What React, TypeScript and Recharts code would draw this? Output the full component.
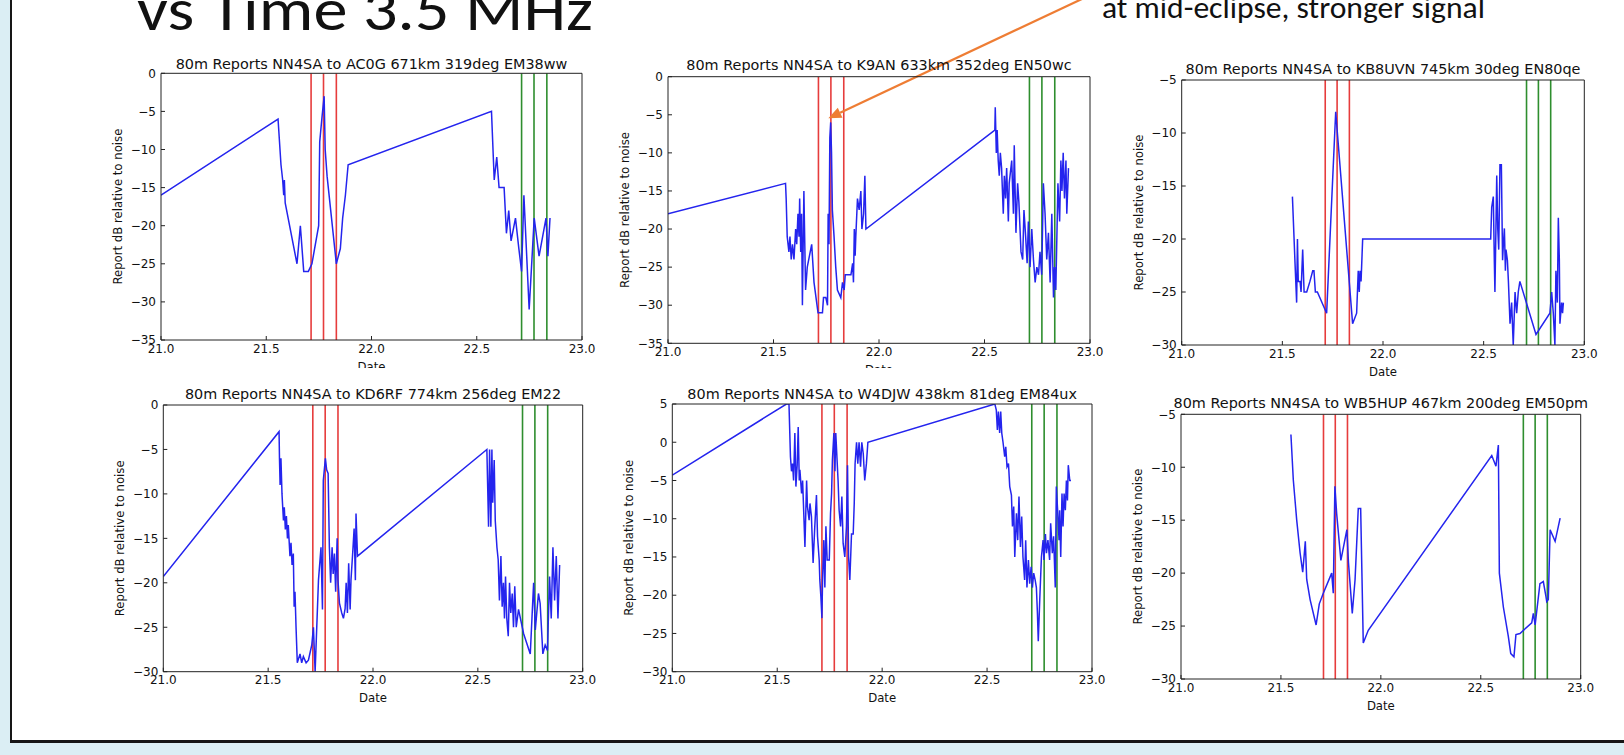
import React from 'react';
import { LineChart, Line, XAxis, YAxis, ReferenceLine } from 'recharts';

// ---------------- data ----------------
const xTicks = [21.0, 21.5, 22.0, 22.5, 23.0];
const eclipseTimes = [21.713, 21.772, 21.833];
const controlTimes = [22.713, 22.772, 22.833];

const ac0gTime = [21.0, 21.556, 21.57, 21.578, 21.583, 21.586, 21.59, 21.646, 21.662, 21.678, 21.7, 21.717, 21.749, 21.754, 21.765, 21.775, 21.78, 21.789, 21.833, 21.852, 21.863, 21.876, 21.889, 22.57, 22.583, 22.595, 22.606, 22.63, 22.641, 22.652, 22.663, 22.684, 22.7, 22.713, 22.724, 22.749, 22.773, 22.796, 22.829, 22.838, 22.848];
const ac0gDb = [-16, -6, -12, -14, -16, -14, -17, -25, -20, -26, -26, -25, -20, -9, -5.7, -3, -10, -13.5, -25, -23, -19, -16, -12, -5, -14, -11, -15, -15, -21, -18, -22, -19, -23, -26, -16, -31, -19, -24, -19, -24, -19];

const k9anTime = [21.0, 21.557, 21.56, 21.565, 21.573, 21.578, 21.584, 21.59, 21.597, 21.605, 21.61, 21.616, 21.621, 21.624, 21.629, 21.633, 21.637, 21.644, 21.652, 21.66, 21.681, 21.692, 21.711, 21.732, 21.737, 21.748, 21.756, 21.759, 21.763, 21.767, 21.771, 21.775, 21.779, 21.787, 21.795, 21.803, 21.819, 21.827, 21.835, 21.84, 21.851, 21.867, 21.875, 21.879, 21.883, 21.887, 21.89, 21.898, 21.906, 21.914, 21.919, 21.927, 21.933, 21.938,
  22.549, 22.551, 22.556, 22.56, 22.565, 22.57, 22.575, 22.581, 22.589, 22.594, 22.6, 22.605, 22.613, 22.617, 22.629, 22.637, 22.641, 22.649, 22.657, 22.663, 22.673, 22.681, 22.687, 22.695, 22.702, 22.708, 22.716, 22.724, 22.732, 22.74, 22.748, 22.756, 22.763, 22.771, 22.779, 22.787, 22.795, 22.803, 22.811, 22.819, 22.827, 22.832, 22.838, 22.848, 22.856, 22.862, 22.867, 22.873, 22.879, 22.886, 22.89, 22.898];
const k9anDb = [-18, -14, -16, -21, -23, -21, -24, -22, -24, -20, -22, -18, -21, -16, -23, -18, -30, -15, -28, -25, -22, -27, -31, -31, -29, -29, -30, -18, -22, -8, -6, -10, -17.5, -21, -25, -28, -29, -27, -28, -26, -26, -26, -24.5, -27, -20, -23.5, -21, -16, -17.5, -15, -20, -18, -13, -20,
  -7, -4, -10, -7, -11, -13, -10, -12, -18, -13, -16, -12, -19, -14, -11, -18, -9, -20.5, -14, -16.5, -23, -24, -17.5, -21, -24.5, -19, -25, -20, -24, -27, -25, -26, -23, -26, -14, -18, -24, -20.5, -27, -18, -29, -25, -28, -14, -19, -11, -15, -10, -16, -11, -18, -12];

const kb8uvnTime = [21.55, 21.563, 21.571, 21.575, 21.579, 21.588, 21.593, 21.601, 21.608, 21.621, 21.637, 21.651, 21.657, 21.664, 21.674, 21.72, 21.765, 21.849, 21.869, 21.877, 21.882, 21.886, 21.891, 21.899, 22.535, 22.54, 22.548, 22.553, 22.556, 22.561, 22.565, 22.57, 22.575, 22.581, 22.588, 22.594, 22.598, 22.603, 22.608, 22.611, 22.618, 22.623, 22.631, 22.639, 22.647, 22.656, 22.664, 22.672, 22.68, 22.76, 22.829, 22.838, 22.846, 22.854, 22.859, 22.866, 22.871, 22.876, 22.879, 22.887, 22.892, 22.896];
const kb8uvnDb = [-16, -22.3, -26, -20, -24, -24, -25, -21, -25, -25, -24, -23, -23, -25, -25, -27, -8, -28, -27, -23, -25, -23, -24, -20, -20, -17, -16, -22, -25, -19, -14, -19, -21, -13, -13, -22, -20.5, -19, -23, -21, -22, -24, -28, -26, -30, -25, -27, -25, -24, -29, -27, -25, -27, -30, -23, -26, -18, -22, -28, -26, -27, -26];

const kd6rfTime = [21.0, 21.552, 21.554, 21.557, 21.561, 21.566, 21.573, 21.577, 21.582, 21.587, 21.592, 21.596, 21.604, 21.609, 21.614, 21.62, 21.624, 21.628, 21.633, 21.639, 21.652, 21.66, 21.668, 21.681, 21.692, 21.708, 21.716, 21.724, 21.74, 21.752, 21.759, 21.763, 21.773, 21.779, 21.786, 21.792, 21.798, 21.805, 21.81, 21.816, 21.822, 21.829, 21.833, 21.84, 21.851, 21.859, 21.867, 21.872, 21.878, 21.884, 21.891, 21.895, 21.903, 21.91, 21.916, 21.919, 21.926,
  22.543, 22.551, 22.556, 22.562, 22.567, 22.571, 22.578, 22.583, 22.591, 22.597, 22.603, 22.61, 22.616, 22.622, 22.627, 22.632, 22.638, 22.645, 22.651, 22.657, 22.664, 22.67, 22.676, 22.683, 22.694, 22.718, 22.75, 22.758, 22.766, 22.774, 22.781, 22.789, 22.797, 22.81, 22.821, 22.832, 22.842, 22.85, 22.858, 22.866, 22.874, 22.882, 22.89];
const kd6rfDb = [-19.3, -3, -6, -9, -6, -10, -13, -11.5, -14, -12.5, -15, -13.5, -17, -15.5, -18, -16.7, -22.7, -21, -25, -29, -28, -29, -28.3, -29, -28.7, -27, -25, -30, -19.7, -16, -23, -8.5, -6, -7.3, -7.7, -16, -20, -16, -19, -16.7, -21, -15, -19.7, -22.3, -23.4, -24, -22.9, -20, -23.4, -17.8, -23, -19.7, -16.7, -13.9, -19.7, -12.2, -17,
  -5, -13.7, -5, -13.7, -5, -11, -6.2, -13, -16, -17.4, -22, -17, -22.7, -20, -24, -19.3, -24, -26, -20, -23.4, -21.2, -25, -20.4, -25, -23, -25.7, -28, -24, -20, -25.3, -23.4, -21.2, -22.3, -28, -27, -27.6, -19.3, -24, -16, -22, -17, -24, -18];

const w4djwTime = [21.0, 21.544, 21.556, 21.563, 21.568, 21.573, 21.578, 21.584, 21.589, 21.595, 21.6, 21.605, 21.608, 21.616, 21.621, 21.627, 21.632, 21.64, 21.644, 21.652, 21.656, 21.663, 21.671, 21.679, 21.687, 21.692, 21.7, 21.703, 21.708, 21.713, 21.716, 21.722, 21.727, 21.732, 21.738, 21.748, 21.754, 21.759, 21.763, 21.77, 21.775, 21.779, 21.786, 21.79, 21.795, 21.802, 21.808, 21.814, 21.822, 21.83, 21.835, 21.84, 21.846, 21.854, 21.862, 21.867, 21.871, 21.878, 21.884, 21.89, 21.897, 21.903, 21.91, 21.917, 21.925, 21.932,
  22.537, 22.544, 22.549, 22.554, 22.56, 22.565, 22.57, 22.576, 22.584, 22.589, 22.595, 22.602, 22.608, 22.616, 22.621, 22.627, 22.632, 22.64, 22.646, 22.652, 22.659, 22.665, 22.671, 22.679, 22.684, 22.69, 22.697, 22.703, 22.71, 22.716, 22.722, 22.729, 22.735, 22.74, 22.744, 22.751, 22.759, 22.767, 22.771, 22.778, 22.783, 22.79, 22.798, 22.803, 22.811, 22.817, 22.825, 22.83, 22.837, 22.843, 22.846, 22.851, 22.857, 22.862, 22.867, 22.873, 22.878, 22.883, 22.887, 22.894, 22.9];
const w4djwDb = [-4.3, 5, 5, -1.9, -3.8, -2.8, -5, 1.2, -5.8, -3, 2, -5, -3.6, -6.7, -5, -9.7, -13.7, -5, -8.4, -10.2, -8, -9.7, -15.8, -11, -6.9, -12.3, -15.4, -18, -20.2, -23, -18, -12.8, -19, -11, -15.4, -15.4, -9.3, -6.7, -2.3, 1.2, -3.8, 1.2, -2.8, -5, -8.9, -11, -7.1, -13.2, -15, -11, -3, -15, -18, -12, -12, -8, -2.8, 0, -2.8, 0, -3.2, 0, -1.5, -5, -2.8, 0,
  5, 4.2, 1.6, 4, 1.2, 4, 1.2, 0, -1.9, -0.6, -3.2, -2.8, -5.8, -6.9, -11, -8.4, -15, -9.3, -12.8, -7.1, -13.7, -9.7, -15, -18, -12.8, -19, -15.4, -18.5, -16.3, -19, -17.1, -18, -19, -22.4, -26, -20.6, -15, -12.8, -15.4, -12, -14.5, -12.8, -15.4, -10.6, -14.5, -12.3, -19, -5.8, -9.3, -12.8, -8.9, -15, -6.7, -11, -6.7, -8.9, -5, -7.6, -3, -5, -5];

const wb5hupTime = [21.55, 21.562, 21.579, 21.596, 21.609, 21.616, 21.622, 21.629, 21.646, 21.676, 21.692, 21.712, 21.754, 21.762, 21.77, 21.779, 21.8, 21.83, 21.838, 21.857, 21.871, 21.887, 21.899, 21.912, 21.937, 22.555, 22.576, 22.588, 22.593, 22.613, 22.638, 22.65, 22.666, 22.676, 22.696, 22.755, 22.763, 22.772, 22.796, 22.813, 22.826, 22.83, 22.838, 22.847, 22.872, 22.897];
const wb5hupDb = [-6.9, -11.2, -15, -18.1, -19.9, -18.4, -17, -20.6, -22.5, -24.9, -22.9, -21.9, -20, -21.9, -11.8, -14.4, -18.8, -15.9, -19, -23.8, -20.6, -13.9, -13.9, -26.6, -25.4, -8.9, -9.9, -7.9, -20, -23.2, -26, -27.6, -27.9, -25.8, -25.7, -24.7, -23.8, -24.9, -21, -20.8, -22.2, -22.7, -22.5, -15.9, -17, -14.8];

// annotation arrow (in K9AN panel data coordinates): tail, then tip
const arrowTail = { x: 23.0, y: 10.7 };
const arrowTip = { x: 21.76, y: -5.46 };

// ---------------- styling ----------------
const AX = '#222';
const BLUE = '#2424ee';
const RED = '#e63c3c';
const GREEN = '#2e8e2e';
const ORANGE = '#ee7d34';
const MPL = "'DejaVu Sans', sans-serif";

const rowsOf = (t: number[], v: number[]) => t.map((x, i) => ({ t: x, v: v[i] }));
const fmtY = (v: number) => (v < 0 ? '\u2212' + Math.abs(v) : String(v));

function ArrowShape(p: any) {
  const x1 = Number(p.x1), y1 = Number(p.y1), x2 = Number(p.x2), y2 = Number(p.y2);
  if (!isFinite(x1) || !isFinite(x2)) return null;
  const a = Math.atan2(y2 - y1, x2 - x1);
  const len = 13, hw = 5.5;
  const bx = x2 - len * Math.cos(a), by = y2 - len * Math.sin(a);
  const px = -Math.sin(a) * hw, py = Math.cos(a) * hw;
  return (
    <g>
      <line x1={x1} y1={y1} x2={bx} y2={by} stroke={ORANGE} strokeWidth={2.2} />
      <polygon points={`${x2},${y2} ${bx + px},${by + py} ${bx - px},${by - py}`} fill={ORANGE} />
    </g>
  );
}

type Geo = { wx: number; wy: number; ww: number; wh: number; L: number; T: number; R: number; B: number; titleY: number };
type PanelCfg = { title: string; rows: { t: number; v: number }[]; yDomain: [number, number]; yTicks: number[]; geo: Geo; arrow?: boolean };

const panels: PanelCfg[] = [
  { title: '80m Reports NN4SA to AC0G 671km 319deg EM38ww', rows: rowsOf(ac0gTime, ac0gDb), yDomain: [-35, 0], yTicks: [-35, -30, -25, -20, -15, -10, -5, 0],
    geo: { wx: 85, wy: 40, ww: 530, wh: 328, L: 161, T: 73.3, R: 582, B: 340, titleY: 68.5 } },
  { title: '80m Reports NN4SA to K9AN 633km 352deg EN50wc', rows: rowsOf(k9anTime, k9anDb), yDomain: [-35, 0], yTicks: [-35, -30, -25, -20, -15, -10, -5, 0],
    geo: { wx: 585, wy: 0, ww: 530, wh: 368, L: 668, T: 76.7, R: 1090, B: 343.3, titleY: 70 }, arrow: true },
  { title: '80m Reports NN4SA to KB8UVN 745km 30deg EN80qe', rows: rowsOf(kb8uvnTime, kb8uvnDb), yDomain: [-30, -5], yTicks: [-30, -25, -20, -15, -10, -5],
    geo: { wx: 1095, wy: 40, ww: 529, wh: 340, L: 1181.7, T: 80, R: 1584.3, B: 345, titleY: 73.5 } },
  { title: '80m Reports NN4SA to KD6RF 774km 256deg EM22', rows: rowsOf(kd6rfTime, kd6rfDb), yDomain: [-30, 0], yTicks: [-30, -25, -20, -15, -10, -5, 0],
    geo: { wx: 85, wy: 375, ww: 530, wh: 340, L: 163.3, T: 405, R: 582.7, B: 671.7, titleY: 399 } },
  { title: '80m Reports NN4SA to W4DJW 438km 81deg EM84ux', rows: rowsOf(w4djwTime, w4djwDb), yDomain: [-30, 5], yTicks: [-30, -25, -20, -15, -10, -5, 0, 5],
    geo: { wx: 585, wy: 375, ww: 530, wh: 340, L: 672.3, T: 404, R: 1092, B: 671.7, titleY: 398.5 } },
  { title: '80m Reports NN4SA to WB5HUP 467km 200deg EM50pm', rows: rowsOf(wb5hupTime, wb5hupDb), yDomain: [-30, -5], yTicks: [-30, -25, -20, -15, -10, -5],
    geo: { wx: 1095, wy: 375, ww: 529, wh: 345, L: 1181, T: 414.3, R: 1580.7, B: 679, titleY: 408 } },
];

const YW = 50;
const XH = 20;

function Panel({ cfg }: { cfg: PanelCfg }) {
  const { title, rows, yDomain, yTicks, geo, arrow } = cfg;
  const { wx, wy, ww, wh, L, T, R, B, titleY } = geo;
  const margin = { left: L - wx - YW, top: T - wy - 1, right: wx + ww - R - 1, bottom: wy + wh - B - XH };
  const tickStyle = { fill: '#111', fontSize: 12, fontFamily: MPL };
  const cx = (L + R) / 2 - wx;
  const ylx = L - 43 - wx;
  const yly = (T + B) / 2 - wy;
  return (
    <div style={{ position: 'absolute', left: wx, top: wy, width: ww, height: wh, overflow: 'hidden' }}>
      <LineChart width={ww} height={wh} data={rows} margin={margin}>
        <XAxis xAxisId="b" dataKey="t" type="number" domain={[21, 23]} ticks={xTicks} interval={0}
          tickFormatter={(v: number) => v.toFixed(1)} allowDataOverflow height={XH} tickSize={-4} tickMargin={8}
          stroke={AX} tick={tickStyle} />
        <XAxis xAxisId="t" orientation="top" dataKey="t" type="number" domain={[21, 23]} ticks={xTicks} interval={0}
          allowDataOverflow height={1} tickSize={-4} tick={false} stroke={AX} />
        <YAxis yAxisId="l" type="number" domain={yDomain} ticks={yTicks} interval={0} allowDataOverflow width={YW}
          tickSize={-4} tickMargin={9} tickFormatter={fmtY} stroke={AX} tick={tickStyle} />
        <YAxis yAxisId="r" orientation="right" type="number" domain={yDomain} ticks={yTicks} interval={0} allowDataOverflow
          width={1} tickSize={-4} tick={false} stroke={AX} />
        {eclipseTimes.map((x) => (
          <ReferenceLine key={'r' + x} xAxisId="b" yAxisId="l" x={x} stroke={RED} strokeWidth={1.6} ifOverflow="hidden" />
        ))}
        {controlTimes.map((x) => (
          <ReferenceLine key={'g' + x} xAxisId="b" yAxisId="l" x={x} stroke={GREEN} strokeWidth={1.6} ifOverflow="hidden" />
        ))}
        <Line xAxisId="b" yAxisId="l" dataKey="v" type="linear" stroke={BLUE} strokeWidth={1.5} dot={false} isAnimationActive={false} />
        {arrow && (
          <ReferenceLine xAxisId="b" yAxisId="l" segment={[arrowTail, arrowTip]} ifOverflow="visible"
            stroke={ORANGE} strokeWidth={2.2} shape={(p: any) => <ArrowShape {...p} />} />
        )}
      </LineChart>
      <svg width={ww} height={wh} style={{ position: 'absolute', left: 0, top: 0, pointerEvents: 'none' }}>
        <text x={cx} y={titleY - wy} textAnchor="middle" fontFamily={MPL} fontSize={14.4} fill="#111">{title}</text>
        <text x={ylx} y={yly} transform={`rotate(-90 ${ylx} ${yly})`} textAnchor="middle" dominantBaseline="central"
          fontFamily={MPL} fontSize={11.7} fill="#111">Report dB relative to noise</text>
        <text x={cx} y={B + 30.5 - wy} textAnchor="middle" fontFamily={MPL} fontSize={11.7} fill="#111">Date</text>
      </svg>
    </div>
  );
}

export default function App() {
  return (
    <div style={{ position: 'fixed', left: 0, top: 0, width: 1624, height: 755, overflow: 'hidden', background: '#dbeef4' }}>
      <div style={{ position: 'absolute', left: 10, top: -10, width: 1700, height: 753, background: '#fff',
        borderLeft: '2px solid #161616', borderBottom: '3px solid #161616', boxSizing: 'border-box' }} />
      <svg width={1624} height={755} style={{ position: 'absolute', left: 0, top: 0 }}>
        <text x={137} y={30} fontFamily="Carlito, Lato, sans-serif" fontSize={60} textLength={456} lengthAdjust="spacingAndGlyphs" fill="#111">vs Time 3.5 MHz</text>
        <text x={1102} y={18} fontFamily="Carlito, Lato, sans-serif" fontSize={30} textLength={383} lengthAdjust="spacingAndGlyphs" fill="#111">at mid-eclipse, stronger signal</text>
      </svg>
      {panels.map((p) => (
        <Panel key={p.title} cfg={p} />
      ))}
    </div>
  );
}
